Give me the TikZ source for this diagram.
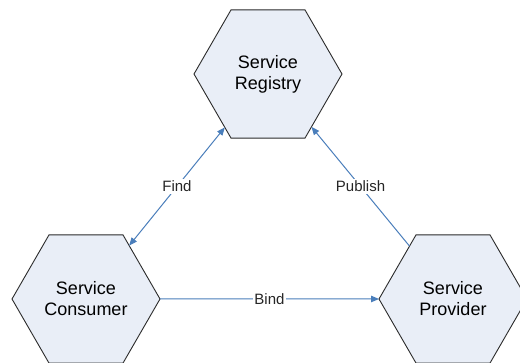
\documentclass[tikz,border=0pt]{standalone}
\usepackage{fontspec}
\setmainfont{Liberation Sans}
\usetikzlibrary{shapes.geometric,arrows.meta}
\definecolor{hexfill}{HTML}{E9EEF7}
\definecolor{hexline}{HTML}{2B2B2B}
\definecolor{linkblue}{HTML}{4A7EBB}
\definecolor{labeltext}{HTML}{262626}
\tikzset{
  hexnode/.style={regular polygon, regular polygon sides=6, minimum size=148pt,
    inner sep=0pt, outer sep=0pt, draw=hexline, line width=0.9pt, fill=hexfill,
    align=center, font=\fontsize{18}{21}\selectfont, text=black},
  link/.style={draw=linkblue, line width=1pt},
  tip/.tip={Triangle[length=8pt,width=6.5pt]},
  linklabel/.style={fill=white, inner sep=1.5pt, font=\fontsize{15}{18}\selectfont, text=labeltext}
}
\begin{document}
\begin{tikzpicture}[x=1pt,y=-1pt]
  \clip (0,0) rectangle (520,363);
  \fill[white] (0,0) rectangle (520,363);
  % the three roles
  \node[hexnode] (reg) at (268,74) {Service\\Registry};
  \node[hexnode] (con) at (86,299) {Service\\Consumer};
  \node[hexnode] (pro) at (453,299) {Service\\Provider};
  % interactions between them
  \draw[link,{tip}-{tip}] (reg) -- node[linklabel] {Find} (con);
  \draw[link,-{tip}] (pro) -- node[linklabel] {Publish} (reg);
  \draw[link,-{tip}] (con) -- node[linklabel] {Bind} (pro);
\end{tikzpicture}
\end{document}
